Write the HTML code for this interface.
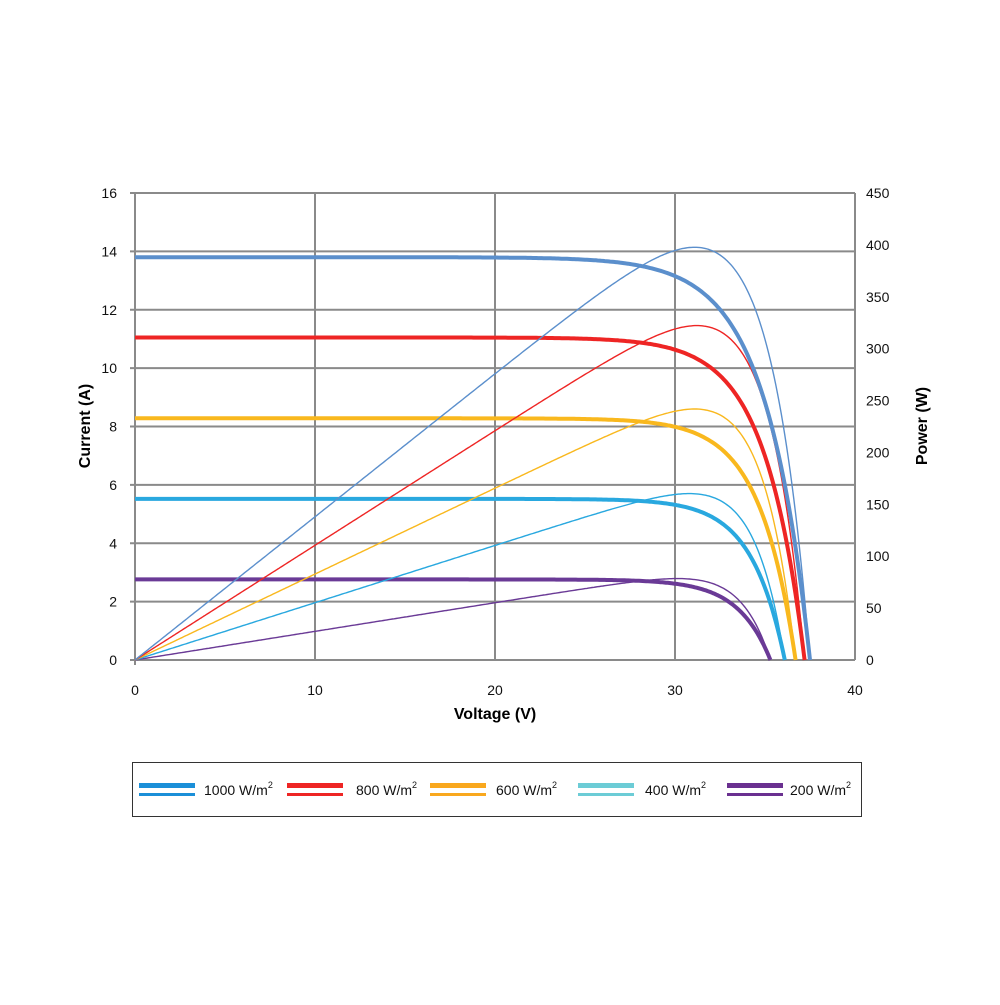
<!DOCTYPE html>
<html><head><meta charset="utf-8"><style>
body{margin:0;background:#fff;}
svg text{font-family:"Liberation Sans",sans-serif;}
</style></head><body>
<svg id="s" width="1000" height="1000" xmlns="http://www.w3.org/2000/svg">
<rect width="1000" height="1000" fill="#fff"/>
<g id="grid" stroke="#8a8a8a" stroke-width="2"></g>
<g id="curves" fill="none" stroke-linejoin="round"></g>
<g font-size="14" fill="#111" id="lbl"></g>
<text x="90" y="426" font-size="16" font-weight="bold" text-anchor="middle" transform="rotate(-90 90 426)">Current (A)</text>
<text x="927" y="426" font-size="16" font-weight="bold" text-anchor="middle" transform="rotate(-90 927 426)">Power (W)</text>
<text x="495" y="719" font-size="16" font-weight="bold" text-anchor="middle">Voltage (V)</text>
<rect x="132.5" y="762.5" width="729" height="54" fill="none" stroke="#333" stroke-width="1"/>
<g id="leg" font-size="14" fill="#111"></g>
</svg>
<script>
const NS="http://www.w3.org/2000/svg";
function el(p,t,a,txt){const e=document.createElementNS(NS,t);for(const k in a)e.setAttribute(k,a[k]);if(txt!==undefined)e.textContent=txt;document.getElementById(p).appendChild(e);return e;}
const X=v=>135+v*18, YI=i=>660-i*467/16, YP=p=>660-p*467/450;
for(let i=0;i<=8;i++){const y=660-i*467/8;el('grid','line',{x1:130,x2:855,y1:y,y2:y});
 el('lbl','text',{x:117,y:y+5,'text-anchor':'end'},String(i*2));}
for(let i=0;i<=9;i++){const y=YP(i*50);el('lbl','text',{x:866,y:y+5},String(i*50));}
for(let i=0;i<=4;i++){const x=X(i*10);el('grid','line',{x1:x,x2:x,y1:193,y2:i==0?665:660});
 el('lbl','text',{x:x,y:695,'text-anchor':'middle'},String(i*10));}
el('grid','line',{x1:855,x2:855,y1:193,y2:660});
const S=[[13.8,37.5,2.45,'#5b8fcc'],[11.05,37.2,2.2,'#ee2524'],[8.28,36.7,2.0,'#f9b81e'],[5.52,36.1,1.85,'#29a8df'],[2.76,35.3,1.8,'#6a3a96']];
S.slice().reverse().forEach(([isc,voc,a,c])=>{
 let pi='',pp='';
 for(let v=0;v<=voc+0.001;v+=0.1){const vv=Math.min(v,voc);const I=isc*(1-Math.exp((vv-voc)/a))/(1-Math.exp(-voc/a));
  pi+=(pi?'L':'M')+X(vv).toFixed(1)+','+YI(I).toFixed(1);pp+=(pp?'L':'M')+X(vv).toFixed(1)+','+YP(I*vv).toFixed(1);}
 el('curves','path',{d:pp,stroke:c,'stroke-width':1.4});
 el('curves','path',{d:pi,stroke:c,'stroke-width':4});
});
const L=[['1000 W/m','#1b8fd8',139,204],['800 W/m','#ee2524',287,356],['600 W/m','#f9a81e',430,496],['400 W/m','#6cccd6',578,645],['200 W/m','#6a3090',727,790]];
L.forEach(([t,c,x,tx])=>{el('leg','rect',{x:x,y:783,width:56,height:5,fill:c});el('leg','rect',{x:x,y:793,width:56,height:3,fill:c});
 const tt=el('leg','text',{x:tx,y:795},t);const s=document.createElementNS(NS,'tspan');s.setAttribute('dy','-7');s.setAttribute('font-size','9');s.textContent='2';tt.appendChild(s);});
</script>
</body></html>
